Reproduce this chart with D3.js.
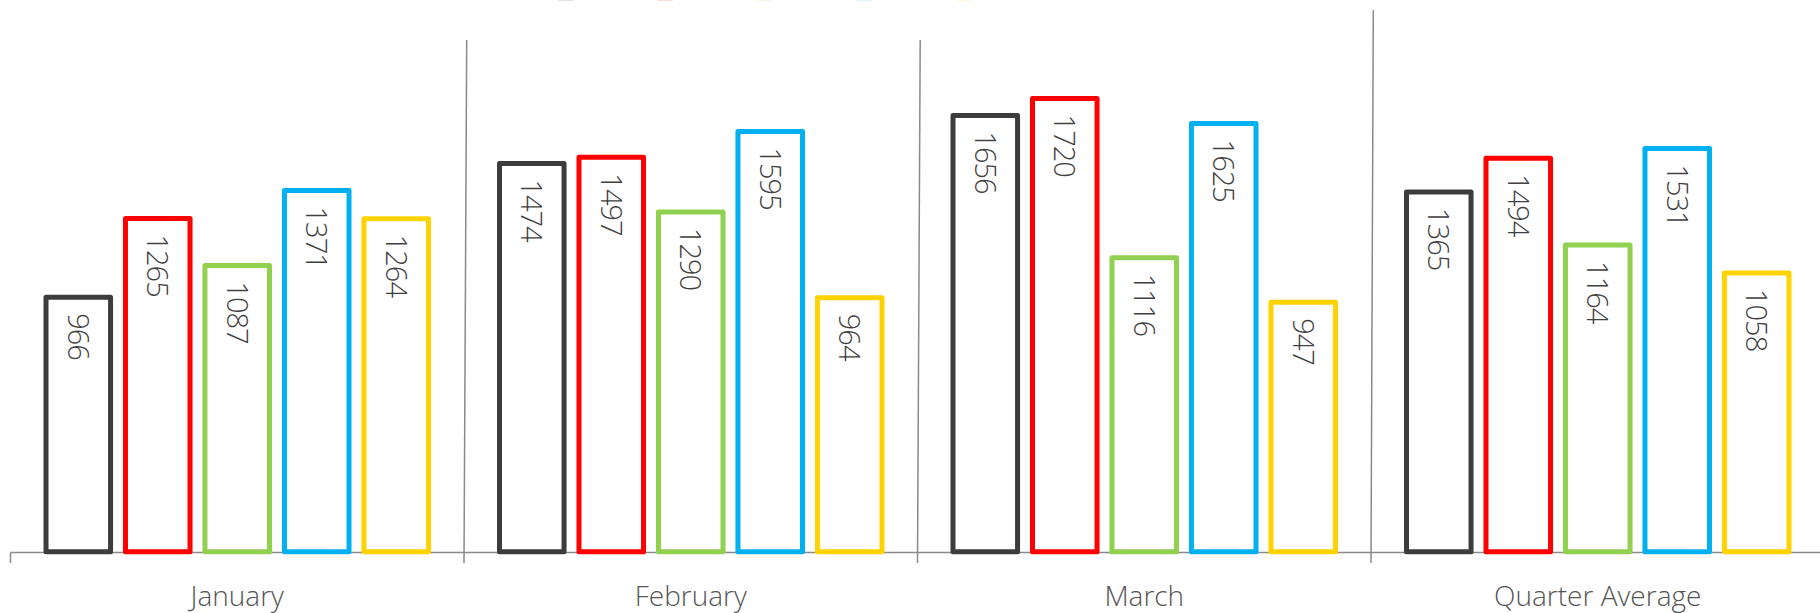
<!DOCTYPE html>
<html>
<head>
<meta charset="utf-8">
<script src="https://cdn.jsdelivr.net/npm/d3@7"></script>
<style>
  html, body { margin: 0; padding: 0; background: #fff; }
  svg { display: block; }
</style>
</head>
<body>
<svg id="svg1" width="1820" height="613"></svg>
<script>
// chart data
var months = ['January', 'February', 'March', 'Quarter Average'];
var series = ['Series 1', 'Series 2', 'Series 3', 'Series 4', 'Series 5'];
var colors = ['#3c3c3c', '#ff0000', '#92d050', '#00b0f0', '#ffd200'];

var s1 = [966, 1474, 1656, 1365];
var s2 = [1265, 1497, 1720, 1494];
var s3 = [1087, 1290, 1116, 1164];
var s4 = [1371, 1595, 1625, 1531];
var s5 = [1264, 964, 947, 1058];
var values = [s1, s2, s3, s4, s5];

var width = document.getElementById('svg1').clientWidth;
var height = document.getElementById('svg1').clientHeight;

var svg = d3.select('svg').append('g');

var stroke = 5;
var axisY = 552.5;

// one band per month, bars inside each band
var x0 = d3.scaleBand().domain(months).range([10.5, 1824.5]);
var x1 = d3.scaleBand().domain(series).range([33, 420.5]).paddingInner(0.125);
var y = d3.scaleLinear().domain([0, 2000]).range([551.8, 24.8]);

// legend sits mostly above the visible area
var legend = svg.append('g').attr('transform', 'translate(558,-14.6)');
legend.selectAll('rect')
    .data(series)
    .enter()
    .append('rect')
    .attr('x', function(d, i){ return i * 99.7; })
    .attr('y', 0)
    .attr('width', 15)
    .attr('height', 15)
    .attr('fill', function(d, i){ return colors[i]; })
    .attr('opacity', 0.35);

// separators between months, slightly leaning
var bounds = months.slice(1).map(function(m){ return x0(m); });
svg.selectAll('line.sep')
    .data(bounds)
    .enter()
    .append('line')
    .attr('class', 'sep')
    .attr('x1', function(d){ return d; })
    .attr('x2', function(d, i){ return d + (i === 2 ? 2.3 : 2.7); })
    .attr('y1', 563)
    .attr('y2', function(d, i){ return i === 2 ? 10 : 40; })
    .attr('stroke', '#8a8a8a')
    .attr('stroke-width', 1.5);

// axis line and left tick
svg.append('line')
    .attr('x1', x0.range()[0]).attr('x2', width)
    .attr('y1', axisY).attr('y2', axisY)
    .attr('stroke', '#8a8a8a')
    .attr('stroke-width', 1.5);
svg.append('line')
    .attr('x1', x0.range()[0]).attr('x2', x0.range()[0])
    .attr('y1', axisY).attr('y2', 563)
    .attr('stroke', '#8a8a8a')
    .attr('stroke-width', 1.5);

// month labels
svg.selectAll('text.month')
    .data(months)
    .enter()
    .append('text')
    .attr('class', 'month')
    .attr('x', function(d){ return x0(d) + x0.bandwidth() / 2; })
    .attr('y', 606)
    .attr('text-anchor', 'middle')
    .attr('font-family', '"Open Sans", sans-serif')
    .attr('font-weight', 300)
    .attr('font-size', 28)
    .attr('fill', '#555')
    .text(function(d){ return d; });

// bars
var groups = svg.selectAll('g.month')
    .data(months)
    .enter()
    .append('g')
    .attr('class', 'month')
    .attr('transform', function(d){ return 'translate(' + x0(d) + ',0)'; });

var bars = groups.selectAll('g.bar')
    .data(function(d, mi){
        return series.map(function(s, si){ return {s: s, i: si, v: values[si][mi]}; });
    })
    .enter()
    .append('g')
    .attr('class', 'bar');

bars.append('rect')
    .attr('x', function(d){ return x1(d.s) + stroke / 2; })
    .attr('y', function(d){ return y(d.v); })
    .attr('width', x1.bandwidth() - stroke)
    .attr('height', function(d){ return y(0) - y(d.v); })
    .attr('fill', '#fff')
    .attr('stroke', function(d){ return colors[d.i]; })
    .attr('stroke-width', stroke)
    .attr('stroke-linejoin', 'round');

bars.append('text')
    .attr('transform', function(d){
        return 'translate(' + (x1(d.s) + x1.bandwidth() / 2) + ',' + (y(d.v) + 16) + ') rotate(90)';
    })
    .attr('dy', '0.36em')
    .attr('font-family', '"Open Sans", sans-serif')
    .attr('font-weight', 300)
    .attr('font-size', 29)
    .attr('letter-spacing', -1)
    .attr('fill', '#404040')
    .text(function(d){ return d.v; });
</script>
</body>
</html>
